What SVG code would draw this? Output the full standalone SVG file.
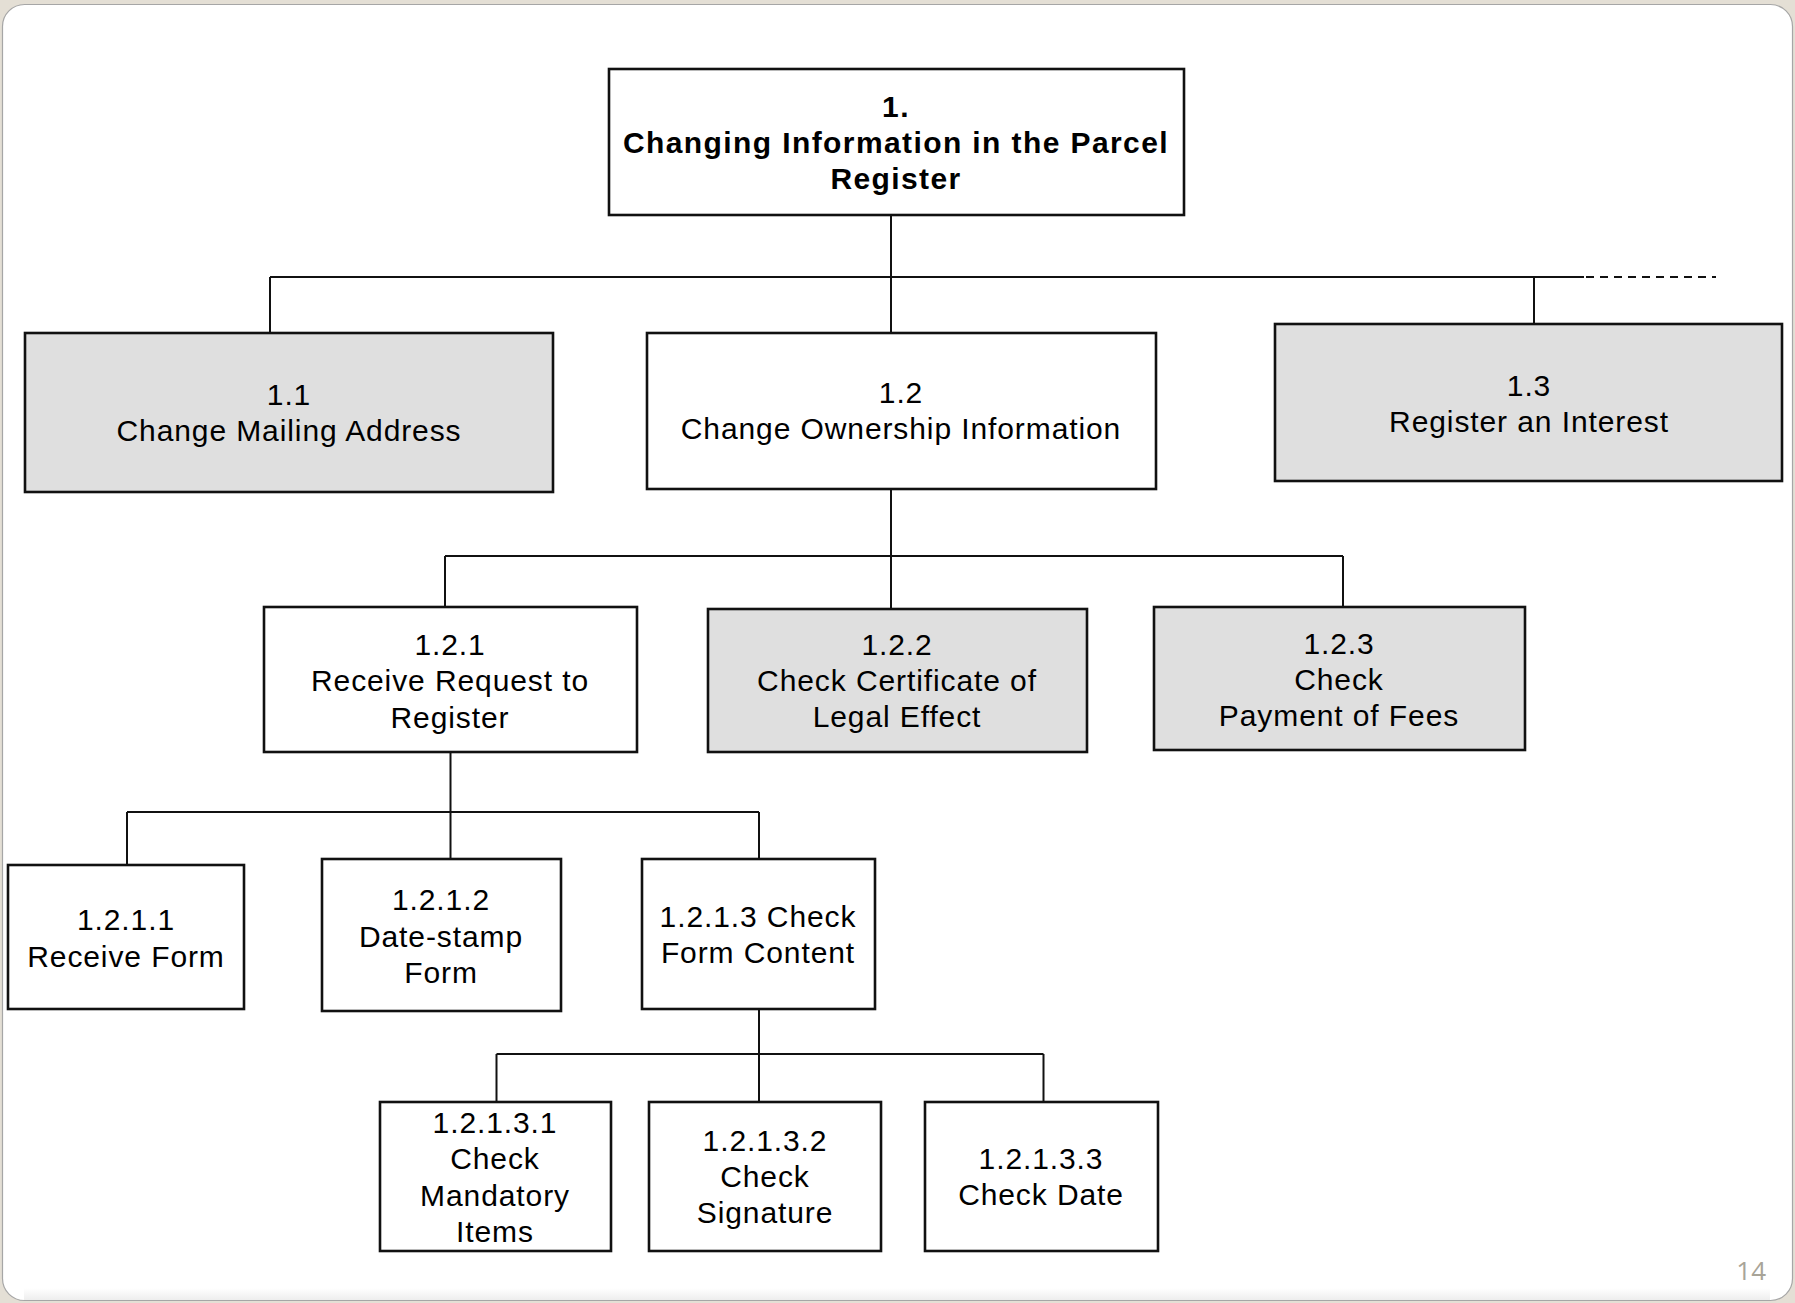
<svg xmlns="http://www.w3.org/2000/svg" width="1795" height="1303" viewBox="0 0 1795 1303">
  <style>
    .box { stroke: #111; stroke-width: 2.6; }
    .plain { fill: #ffffff; }
    .shaded { fill: #dfdfdf; }
    .lbl { font-family: "Liberation Sans", Arial, sans-serif; font-size: 30px; letter-spacing: 0.9px; fill: #000; text-anchor: middle; }
    .title { font-family: "Liberation Sans", Arial, sans-serif; font-size: 30px; font-weight: bold; letter-spacing: 1.4px; fill: #000; text-anchor: middle; }
    .wire { stroke: #111; stroke-width: 2; fill: none; }
    .dash { stroke: #111; stroke-width: 2; fill: none; stroke-dasharray: 8 6; }
  </style>
  <defs>
    <linearGradient id="footShade" x1="0" y1="0" x2="0" y2="1">
      <stop offset="0" stop-color="#ffffff"/>
      <stop offset="1" stop-color="#ededed"/>
    </linearGradient>
  </defs>

  <!-- slide background and card -->
  <rect x="0" y="0" width="1795" height="1303" fill="#e4dfd5"/>
  <rect x="2.5" y="4.5" width="1790" height="1296" rx="22" ry="22" fill="#ffffff" stroke="#a6a6a6" stroke-width="1.2"/>
  <rect x="24" y="1288" width="1746" height="12" fill="url(#footShade)"/>
  <text x="1766" y="1280" font-family="'Open Sans', 'Liberation Sans', sans-serif" font-size="26" fill="#a8a498" text-anchor="end">14</text>

  <!-- connectors -->
  <g id="connectors">
    <line class="wire" x1="891" y1="215" x2="891" y2="333"/>
    <line class="wire" x1="270" y1="277" x2="1584" y2="277"/>
    <line class="dash" x1="1586" y1="277" x2="1716" y2="277"/>
    <line class="wire" x1="270" y1="277" x2="270" y2="333"/>
    <line class="wire" x1="1534" y1="277" x2="1534" y2="325"/>

    <line class="wire" x1="891" y1="489" x2="891" y2="609"/>
    <line class="wire" x1="445" y1="556" x2="1343" y2="556"/>
    <line class="wire" x1="445" y1="556" x2="445" y2="607"/>
    <line class="wire" x1="1343" y1="556" x2="1343" y2="607"/>

    <line class="wire" x1="450.5" y1="752" x2="450.5" y2="859"/>
    <line class="wire" x1="127" y1="812" x2="759" y2="812"/>
    <line class="wire" x1="127" y1="812" x2="127" y2="865"/>
    <line class="wire" x1="759" y1="812" x2="759" y2="859"/>

    <line class="wire" x1="759" y1="1009" x2="759" y2="1102"/>
    <line class="wire" x1="496.5" y1="1054" x2="1043.5" y2="1054"/>
    <line class="wire" x1="496.5" y1="1054" x2="496.5" y2="1102"/>
    <line class="wire" x1="1043.5" y1="1054" x2="1043.5" y2="1102"/>
  </g>

  <!-- level 1 -->
  <g id="n1">
    <rect class="box plain" x="609" y="69" width="575" height="146"/>
    <text class="title" x="896" y="117">1.</text>
    <text class="title" x="896" y="153">Changing Information in the Parcel</text>
    <text class="title" x="896" y="189">Register</text>
  </g>

  <!-- level 2 -->
  <g id="n1_1">
    <rect class="box shaded" x="25" y="333" width="528" height="159"/>
    <text class="lbl" x="289" y="405">1.1</text>
    <text class="lbl" x="289" y="441">Change Mailing Address</text>
  </g>
  <g id="n1_2">
    <rect class="box plain" x="647" y="333" width="509" height="156"/>
    <text class="lbl" x="901" y="403">1.2</text>
    <text class="lbl" x="901" y="439">Change Ownership Information</text>
  </g>
  <g id="n1_3">
    <rect class="box shaded" x="1275" y="324" width="507" height="157"/>
    <text class="lbl" x="1529" y="396">1.3</text>
    <text class="lbl" x="1529" y="432">Register an Interest</text>
  </g>

  <!-- level 3 -->
  <g id="n1_2_1">
    <rect class="box plain" x="264" y="607" width="373" height="145"/>
    <text class="lbl" x="450" y="655">1.2.1</text>
    <text class="lbl" x="450" y="691">Receive Request to</text>
    <text class="lbl" x="450" y="728">Register</text>
  </g>
  <g id="n1_2_2">
    <rect class="box shaded" x="708" y="609" width="379" height="143"/>
    <text class="lbl" x="897" y="655">1.2.2</text>
    <text class="lbl" x="897" y="691">Check Certificate of</text>
    <text class="lbl" x="897" y="727">Legal Effect</text>
  </g>
  <g id="n1_2_3">
    <rect class="box shaded" x="1154" y="607" width="371" height="143"/>
    <text class="lbl" x="1339" y="654">1.2.3</text>
    <text class="lbl" x="1339" y="690">Check</text>
    <text class="lbl" x="1339" y="726">Payment of Fees</text>
  </g>

  <!-- level 4 -->
  <g id="n1_2_1_1">
    <rect class="box plain" x="8" y="865" width="236" height="144"/>
    <text class="lbl" x="126" y="930">1.2.1.1</text>
    <text class="lbl" x="126" y="967">Receive Form</text>
  </g>
  <g id="n1_2_1_2">
    <rect class="box plain" x="322" y="859" width="239" height="152"/>
    <text class="lbl" x="441" y="910">1.2.1.2</text>
    <text class="lbl" x="441" y="947">Date-stamp</text>
    <text class="lbl" x="441" y="983">Form</text>
  </g>
  <g id="n1_2_1_3">
    <rect class="box plain" x="642" y="859" width="233" height="150"/>
    <text class="lbl" x="758" y="927">1.2.1.3 Check</text>
    <text class="lbl" x="758" y="963">Form Content</text>
  </g>

  <!-- level 5 -->
  <g id="n1_2_1_3_1">
    <rect class="box plain" x="380" y="1102" width="231" height="149"/>
    <text class="lbl" x="495" y="1133">1.2.1.3.1</text>
    <text class="lbl" x="495" y="1169">Check</text>
    <text class="lbl" x="495" y="1206">Mandatory</text>
    <text class="lbl" x="495" y="1242">Items</text>
  </g>
  <g id="n1_2_1_3_2">
    <rect class="box plain" x="649" y="1102" width="232" height="149"/>
    <text class="lbl" x="765" y="1151">1.2.1.3.2</text>
    <text class="lbl" x="765" y="1187">Check</text>
    <text class="lbl" x="765" y="1223">Signature</text>
  </g>
  <g id="n1_2_1_3_3">
    <rect class="box plain" x="925" y="1102" width="233" height="149"/>
    <text class="lbl" x="1041" y="1169">1.2.1.3.3</text>
    <text class="lbl" x="1041" y="1205">Check Date</text>
  </g>
</svg>
